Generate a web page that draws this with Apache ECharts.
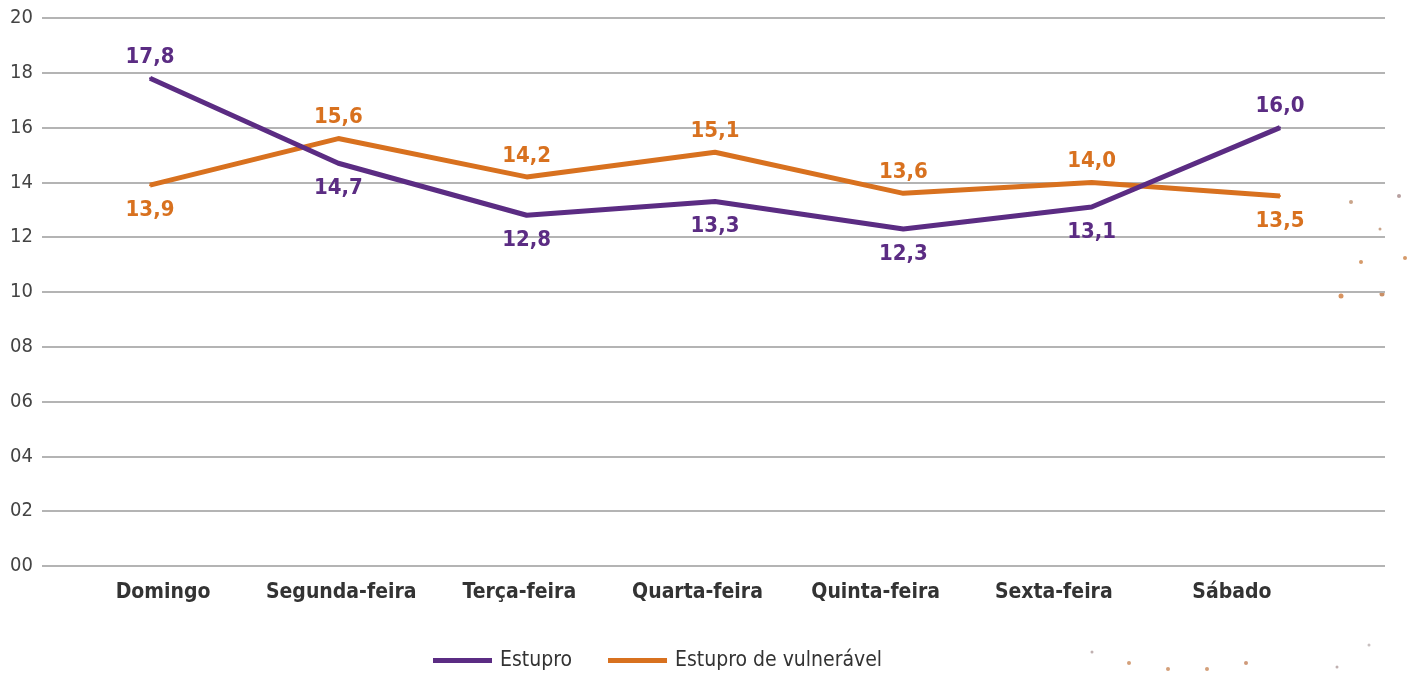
<!DOCTYPE html>
<html>
<head>
<meta charset="utf-8">
<script src="https://cdn.jsdelivr.net/npm/echarts@6/dist/echarts.min.js"></script>
<style>
html,body{margin:0;padding:0;background:#fff;}
#c{width:1415px;height:677px;}
</style>
</head>
<body>
<div id="c"></div>
<script>
var categories = ['Domingo','Segunda-feira','Terça-feira','Quarta-feira','Quinta-feira','Sexta-feira','Sábado'];
var estupro = [17.8, 14.7, 12.8, 13.3, 12.3, 13.1, 16.0];
var vulneravel = [13.9, 15.6, 14.2, 15.1, 13.6, 14.0, 13.5];
var estuproPos = ['top','bottom','bottom','bottom','bottom','bottom','top'];
var vulneravelPos = ['bottom','top','top','top','top','top','bottom'];
var yTicks = ['00','02','04','06','08','10','12','14','16','18','20'];

var FONT = '"Liberation Sans Narrow", "DejaVu Sans Condensed", sans-serif';
var PURPLE = '#5b2c83';
var ORANGE = '#d8711f';

function mk(vals, pos) {
  return vals.map(function (v, i) {
    return {
      value: v,
      label: { position: pos[i], distance: pos[i] === 'top' ? 9 : 13 }
    };
  });
}
function fmt(p) { return p.value.toFixed(1).replace('.', ','); }

var chart = echarts.init(document.getElementById('c'));
chart.setOption({
  animation: false,
  backgroundColor: '#fff',
  grid: [
    { left: 42, right: 30, top: 18, bottom: 111 },
    { left: 74, right: 94, top: 18, bottom: 111 },
    { left: 150, right: 135, top: 18, bottom: 111 }
  ],
  legend: {
    top: 645,
    left: 428,
    itemWidth: 59,
    itemHeight: 5,
    itemGap: 36,
    icon: 'rect',
    textStyle: { fontFamily: FONT, fontSize: 21, color: '#333', padding: [0, 0, 0, 3] },
    data: ['Estupro', 'Estupro de vulnerável']
  },
  xAxis: [
    { gridIndex: 0, type: 'value', min: 0, max: 1, show: false },
    {
      gridIndex: 1, type: 'category', data: categories, boundaryGap: true,
      axisLine: { show: false }, axisTick: { show: false }, splitLine: { show: false },
      axisLabel: { interval: 0, fontFamily: FONT, fontSize: 21, fontWeight: 'bold', color: '#333', margin: 16 }
    },
    {
      gridIndex: 2, type: 'category', data: categories, boundaryGap: false, show: false
    }
  ],
  yAxis: [
    {
      gridIndex: 0, type: 'value', min: 0, max: 20, interval: 2,
      axisLine: { show: false }, axisTick: { show: false },
      axisLabel: {
        fontFamily: FONT, fontSize: 20, color: '#444', margin: 9,
        formatter: function (v) { return yTicks[Math.round(v / 2)]; }
      },
      splitLine: { lineStyle: { color: '#b4b4b4', width: 2 } }
    },
    { gridIndex: 1, type: 'value', min: 0, max: 20, interval: 2, show: false, splitLine: { show: false } },
    { gridIndex: 2, type: 'value', min: 0, max: 20, interval: 2, show: false, splitLine: { show: false } }
  ],
  series: [
    {
      name: 'Estupro', type: 'line', xAxisIndex: 2, yAxisIndex: 2,
      data: mk(estupro, estuproPos), color: PURPLE,
      symbol: 'circle', symbolSize: 2, showSymbol: true,
      itemStyle: { color: PURPLE },
      lineStyle: { width: 5, color: PURPLE },
      label: { show: true, fontFamily: FONT, fontSize: 22, fontWeight: 'bold', color: PURPLE, formatter: fmt },
      z: 3
    },
    {
      name: 'Estupro de vulnerável', type: 'line', xAxisIndex: 2, yAxisIndex: 2,
      data: mk(vulneravel, vulneravelPos), color: ORANGE,
      symbol: 'circle', symbolSize: 2, showSymbol: true,
      itemStyle: { color: ORANGE },
      lineStyle: { width: 5, color: ORANGE },
      label: { show: true, fontFamily: FONT, fontSize: 22, fontWeight: 'bold', color: ORANGE, formatter: fmt },
      z: 2
    }
  ],
  graphic: [
    { type: 'circle', shape: { cx: 1351, cy: 202, r: 2 }, style: { fill: '#c9a48a' } },
    { type: 'circle', shape: { cx: 1399, cy: 196, r: 2 }, style: { fill: '#b7a0a0' } },
    { type: 'circle', shape: { cx: 1380, cy: 229, r: 1.5 }, style: { fill: '#c9a48a' } },
    { type: 'circle', shape: { cx: 1361, cy: 262, r: 2 }, style: { fill: '#d59a6a' } },
    { type: 'circle', shape: { cx: 1405, cy: 258, r: 2 }, style: { fill: '#d59a6a' } },
    { type: 'circle', shape: { cx: 1341, cy: 296, r: 2.5 }, style: { fill: '#d8935f' } },
    { type: 'circle', shape: { cx: 1382, cy: 294, r: 2.5 }, style: { fill: '#c98f66' } },
    { type: 'circle', shape: { cx: 1092, cy: 652, r: 1.5 }, style: { fill: '#c0b0b0' } },
    { type: 'circle', shape: { cx: 1129, cy: 663, r: 2 }, style: { fill: '#d4a07a' } },
    { type: 'circle', shape: { cx: 1168, cy: 669, r: 2 }, style: { fill: '#d4a07a' } },
    { type: 'circle', shape: { cx: 1207, cy: 669, r: 2 }, style: { fill: '#d4a07a' } },
    { type: 'circle', shape: { cx: 1246, cy: 663, r: 2 }, style: { fill: '#cf9a7a' } },
    { type: 'circle', shape: { cx: 1337, cy: 667, r: 1.5 }, style: { fill: '#c0b0b0' } },
    { type: 'circle', shape: { cx: 1369, cy: 645, r: 1.5 }, style: { fill: '#c8c0c0' } }
  ]
});
</script>
</body>
</html>
